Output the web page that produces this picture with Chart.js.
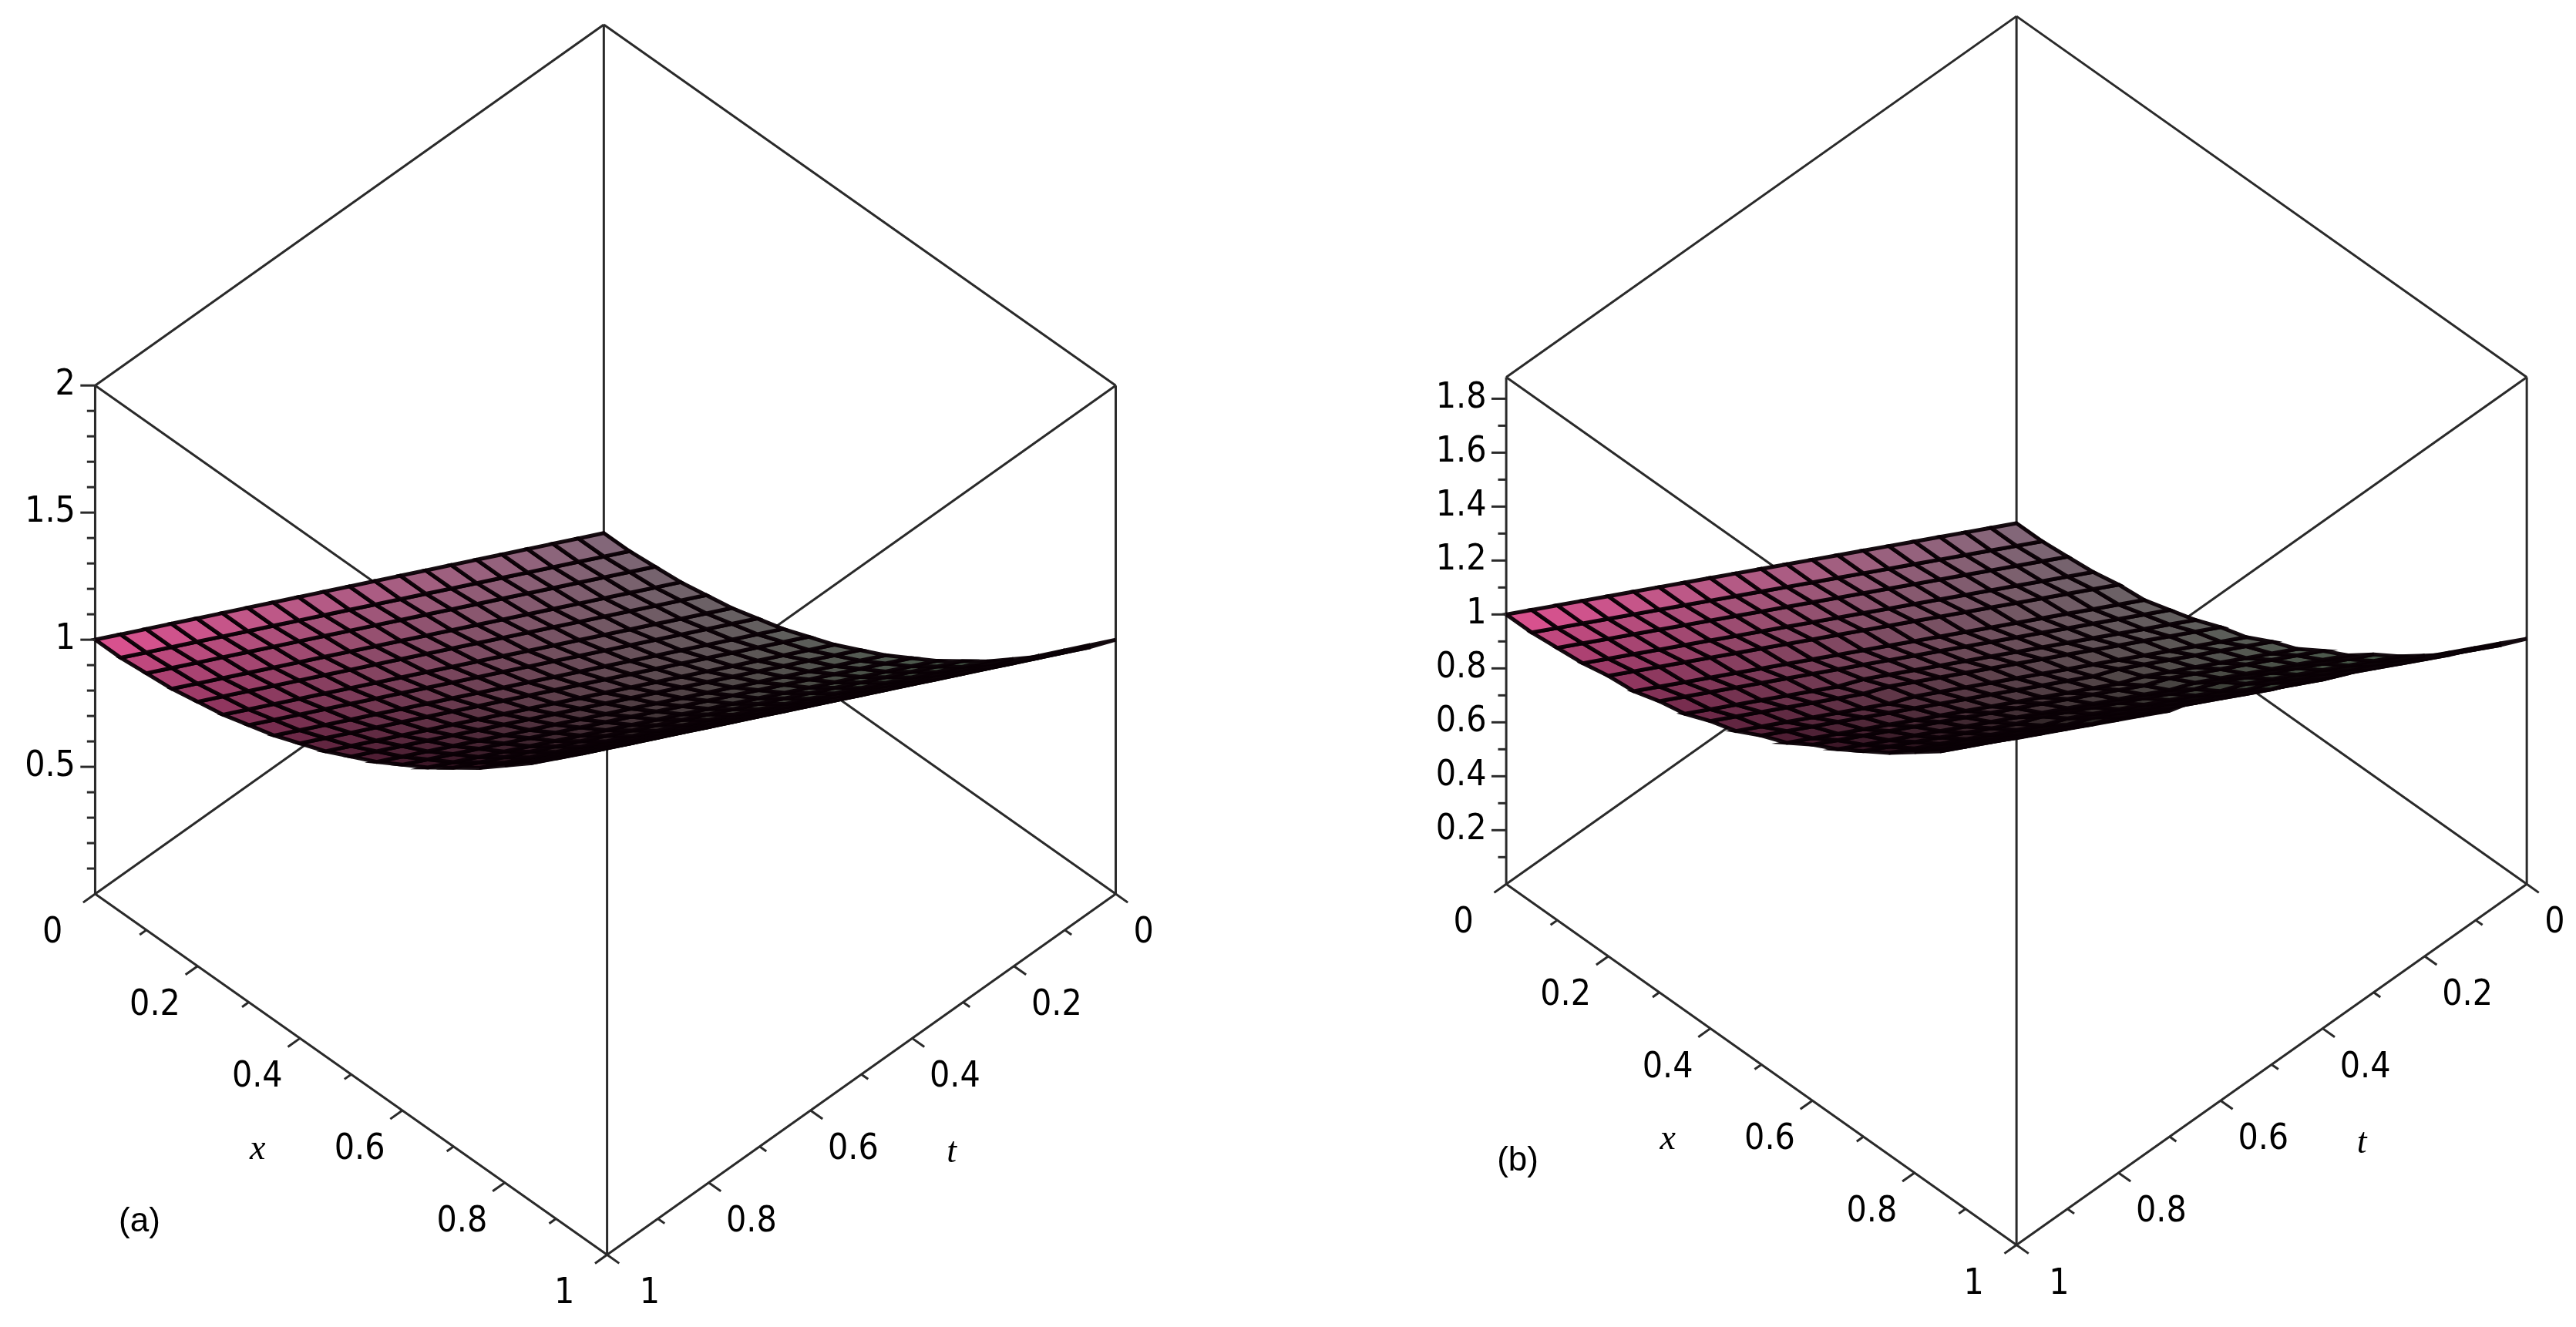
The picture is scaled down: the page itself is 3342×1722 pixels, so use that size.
<!DOCTYPE html>
<html>
<head>
<meta charset="utf-8">
<script src="https://cdn.jsdelivr.net/npm/chart.js@4.4.1/dist/chart.umd.min.js"></script>
<style>
  html, body { margin: 0; padding: 0; background: #fff; }
  #wrap { width: 3342px; height: 1722px; }
</style>
</head>
<body>
<div id="wrap"><canvas id="c" width="3342" height="1722"></canvas></div>
<script>
// grid of x and t (0..1 step 0.05)
const xs = [0,.05,.1,.15,.2,.25,.3,.35,.4,.45,.5,.55,.6,.65,.7,.75,.8,.85,.9,.95,1];
const ts = [0,.05,.1,.15,.2,.25,.3,.35,.4,.45,.5,.55,.6,.65,.7,.75,.8,.85,.9,.95,1];

// u(x,t), one row per t
const uA = [
  [0,0,.01,.02,.04,.06,.09,.12,.16,.2,.25,.3,.36,.42,.49,.56,.64,.72,.81,.9,1],
  [.05,.05,.06,.07,.09,.11,.14,.17,.21,.25,.3,.35,.41,.47,.54,.61,.69,.77,.86,.95,1.05],
  [.1,.1,.11,.12,.14,.16,.19,.22,.26,.3,.35,.4,.46,.52,.59,.66,.74,.82,.91,1,1.1],
  [.15,.15,.16,.17,.19,.21,.24,.27,.31,.35,.4,.45,.51,.57,.64,.71,.79,.87,.96,1.05,1.15],
  [.2,.2,.21,.22,.24,.26,.29,.32,.36,.4,.45,.5,.56,.62,.69,.76,.84,.92,1.01,1.1,1.2],
  [.25,.25,.26,.27,.29,.31,.34,.37,.41,.45,.5,.55,.61,.67,.74,.81,.89,.97,1.06,1.15,1.25],
  [.3,.3,.31,.32,.34,.36,.39,.42,.46,.5,.55,.6,.66,.72,.79,.86,.94,1.02,1.11,1.2,1.3],
  [.35,.35,.36,.37,.39,.41,.44,.47,.51,.55,.6,.65,.71,.77,.84,.91,.99,1.07,1.16,1.25,1.35],
  [.4,.4,.41,.42,.44,.46,.49,.52,.56,.6,.65,.7,.76,.82,.89,.96,1.04,1.12,1.21,1.3,1.4],
  [.45,.45,.46,.47,.49,.51,.54,.57,.61,.65,.7,.75,.81,.87,.94,1.01,1.09,1.17,1.26,1.35,1.45],
  [.5,.5,.51,.52,.54,.56,.59,.62,.66,.7,.75,.8,.86,.92,.99,1.06,1.14,1.22,1.31,1.4,1.5],
  [.55,.55,.56,.57,.59,.61,.64,.67,.71,.75,.8,.85,.91,.97,1.04,1.11,1.19,1.27,1.36,1.45,1.55],
  [.6,.6,.61,.62,.64,.66,.69,.72,.76,.8,.85,.9,.96,1.02,1.09,1.16,1.24,1.32,1.41,1.5,1.6],
  [.65,.65,.66,.67,.69,.71,.74,.77,.81,.85,.9,.95,1.01,1.07,1.14,1.21,1.29,1.37,1.46,1.55,1.65],
  [.7,.7,.71,.72,.74,.76,.79,.82,.86,.9,.95,1,1.06,1.12,1.19,1.26,1.34,1.42,1.51,1.6,1.7],
  [.75,.75,.76,.77,.79,.81,.84,.87,.91,.95,1,1.05,1.11,1.17,1.24,1.31,1.39,1.47,1.56,1.65,1.75],
  [.8,.8,.81,.82,.84,.86,.89,.92,.96,1,1.05,1.1,1.16,1.22,1.29,1.36,1.44,1.52,1.61,1.7,1.8],
  [.85,.85,.86,.87,.89,.91,.94,.97,1.01,1.05,1.1,1.15,1.21,1.27,1.34,1.41,1.49,1.57,1.66,1.75,1.85],
  [.9,.9,.91,.92,.94,.96,.99,1.02,1.06,1.1,1.15,1.2,1.26,1.32,1.39,1.46,1.54,1.62,1.71,1.8,1.9],
  [.95,.95,.96,.97,.99,1.01,1.04,1.07,1.11,1.15,1.2,1.25,1.31,1.37,1.44,1.51,1.59,1.67,1.76,1.85,1.95],
  [1,1,1.01,1.02,1.04,1.06,1.09,1.12,1.16,1.2,1.25,1.3,1.36,1.42,1.49,1.56,1.64,1.72,1.81,1.9,2]
];

// u(x,t)
const uB = [
  [0,0,.01,.02,.04,.05,.08,.11,.15,.18,.23,.27,.33,.38,.45,.51,.58,.65,.74,.82,.91],
  [.05,.05,.06,.07,.09,.1,.13,.16,.2,.23,.28,.32,.38,.43,.5,.56,.63,.7,.79,.87,.96],
  [.1,.1,.11,.12,.14,.15,.18,.21,.25,.28,.33,.37,.43,.48,.55,.61,.68,.75,.84,.92,1.01],
  [.15,.15,.16,.17,.19,.2,.23,.26,.3,.33,.38,.42,.48,.53,.6,.66,.73,.8,.89,.97,1.06],
  [.2,.2,.21,.22,.24,.25,.28,.31,.35,.38,.43,.47,.53,.58,.65,.71,.78,.85,.94,1.02,1.11],
  [.25,.25,.26,.27,.29,.3,.33,.36,.4,.43,.48,.52,.58,.63,.7,.76,.83,.9,.99,1.07,1.16],
  [.3,.3,.31,.32,.34,.35,.38,.41,.45,.48,.53,.57,.63,.68,.75,.81,.88,.95,1.04,1.12,1.21],
  [.35,.35,.36,.37,.39,.4,.43,.46,.5,.53,.57,.61,.67,.72,.79,.85,.92,.99,1.08,1.16,1.25],
  [.4,.4,.41,.42,.44,.45,.48,.51,.55,.58,.62,.66,.72,.77,.84,.9,.97,1.04,1.13,1.21,1.3],
  [.45,.45,.46,.47,.49,.5,.53,.56,.6,.63,.67,.71,.77,.82,.89,.95,1.02,1.09,1.18,1.26,1.35],
  [.5,.5,.51,.52,.54,.55,.58,.61,.65,.68,.72,.76,.82,.87,.94,1,1.07,1.14,1.23,1.31,1.4],
  [.55,.55,.56,.57,.59,.6,.63,.66,.7,.73,.77,.81,.87,.92,.99,1.05,1.12,1.19,1.28,1.36,1.45],
  [.6,.6,.61,.62,.64,.65,.68,.71,.75,.78,.82,.86,.92,.97,1.04,1.1,1.17,1.24,1.33,1.41,1.5],
  [.65,.65,.66,.67,.69,.7,.73,.76,.8,.83,.87,.91,.97,1.02,1.09,1.15,1.22,1.29,1.38,1.46,1.55],
  [.7,.7,.71,.72,.74,.75,.78,.8,.84,.87,.92,.96,1.02,1.07,1.13,1.19,1.26,1.33,1.42,1.5,1.58],
  [.75,.75,.76,.77,.79,.8,.83,.85,.89,.92,.97,1.01,1.07,1.12,1.18,1.24,1.31,1.38,1.47,1.55,1.63],
  [.8,.8,.81,.82,.84,.85,.88,.9,.94,.97,1.02,1.06,1.12,1.17,1.23,1.29,1.36,1.43,1.52,1.6,1.68],
  [.85,.85,.86,.87,.89,.9,.93,.95,.99,1.02,1.07,1.11,1.17,1.22,1.28,1.34,1.41,1.48,1.57,1.65,1.73],
  [.9,.9,.91,.92,.94,.95,.98,1,1.04,1.07,1.12,1.16,1.22,1.27,1.33,1.39,1.46,1.53,1.62,1.7,1.78],
  [.95,.95,.96,.97,.99,1,1.03,1.05,1.09,1.12,1.17,1.21,1.27,1.32,1.38,1.44,1.51,1.58,1.67,1.75,1.83],
  [1,1,1.01,1.02,1.04,1.05,1.08,1.1,1.14,1.17,1.22,1.26,1.32,1.37,1.43,1.49,1.56,1.63,1.72,1.8,1.88]
];

const xTicks = [0, 0.2, 0.4, 0.6, 0.8, 1];
const tTicks = [0, 0.2, 0.4, 0.6, 0.8, 1];
const zTicksA = [0.5, 1, 1.5, 2];
const zTicksB = [0.2, 0.4, 0.6, 0.8, 1, 1.2, 1.4, 1.6, 1.8];
const zMaxA = 2;
const zMaxB = 1.88;

// view geometry for each panel (page units, 1570 x 809)
const panels = [
  { u: uA, zTicks: zTicksA, zMax: zMaxA, name: "(a)", bx: 368, by: 325, ex: [312, 220], et: [-310, 220], ez: 155, lab: [85, 745] },
  { u: uB, zTicks: zTicksB, zMax: zMaxB, name: "(b)", bx: 1229, by: 319, ex: [311, 220], et: [-311, 220], ez: 164.4, lab: [925, 708] }
];

function proj(p, x, t, z) {
  return { x: p.bx + x * p.ex[0] + t * p.et[0], y: p.by + x * p.ex[1] + t * p.et[1] - z * p.ez };
}

// box edges as datasets
const datasets = [];
panels.forEach(p => {
  const c = [[0,0],[1,0],[1,1],[0,1]];
  [0, p.zMax].forEach(z => {
    for (let i = 0; i < 4; i++) {
      const a = c[i], b = c[(i + 1) % 4];
      datasets.push({ data: [proj(p, a[0], a[1], z), proj(p, b[0], b[1], z)] });
    }
  });
  c.forEach(a => datasets.push({ data: [proj(p, a[0], a[1], 0), proj(p, a[0], a[1], p.zMax)] }));
});
datasets.forEach(d => {
  d.showLine = true; d.borderColor = "#2a2a2a"; d.borderWidth = 3; d.pointRadius = 0;
});

function mix(a, b, f) { return a.map((v, i) => v + (b[i] - v) * f); }
// corner colours: (x0,t0),(x1,t0),(x0,t1),(x1,t1)
const c00 = [135, 105, 125], c10 = [55, 85, 60], c01 = [245, 90, 160], c11 = [0, 0, 0];

const surfacePlugin = {
  id: "surface",
  afterDatasetsDraw(chart) {
    const ctx = chart.ctx, sx = chart.scales.x, sy = chart.scales.y;
    const P = q => [sx.getPixelForValue(q.x), sy.getPixelForValue(q.y)];
    const k = sx.getPixelForValue(1) - sx.getPixelForValue(0);
    panels.forEach(p => {
      // surface cells, far corner (x=1,t=1) first
      const cells = [];
      for (let j = 0; j < ts.length - 1; j++)
        for (let i = 0; i < xs.length - 1; i++) cells.push([i, j]);
      cells.sort((a, b) => (b[0] + b[1]) - (a[0] + a[1]));
      cells.forEach(([i, j]) => {
        const pts = [[i, j], [i + 1, j], [i + 1, j + 1], [i, j + 1]].map(([a, b]) => P(proj(p, xs[a], ts[b], p.u[b][a])));
        const fx = (xs[i] + xs[i + 1]) / 2, ft = (ts[j] + ts[j + 1]) / 2;
        const col = mix(mix(c00, c10, Math.pow(fx, 0.7)), mix(c01, c11, Math.pow(fx, 0.6)), ft).map(Math.round);
        ctx.beginPath();
        ctx.moveTo(pts[0][0], pts[0][1]);
        for (let m = 1; m < 4; m++) ctx.lineTo(pts[m][0], pts[m][1]);
        ctx.closePath();
        ctx.fillStyle = `rgb(${col})`;
        ctx.fill();
        ctx.strokeStyle = "rgba(10,0,5,0.95)";
        ctx.lineWidth = 5;
        ctx.stroke();
      });

      ctx.strokeStyle = "#2a2a2a";
      ctx.lineWidth = 3;
      ctx.fillStyle = "#000";
      ctx.font = '46px "Liberation Sans Narrow", "DejaVu Sans Condensed", sans-serif';
      const tick = (q, dx, dy, len) => {
        const a = P(q);
        ctx.beginPath(); ctx.moveTo(a[0], a[1]); ctx.lineTo(a[0] + dx * len * k, a[1] + dy * len * k); ctx.stroke();
      };
      const nx = Math.hypot(p.et[0], p.et[1]), ne = Math.hypot(p.ex[0], p.ex[1]);
      // x axis along t=1 edge, t axis along x=1 edge
      for (let m = 0; m <= 10; m++) {
        const v = m / 10, len = m % 2 === 0 ? 9 : 5;
        tick(proj(p, v, 1, 0), p.et[0] / nx, p.et[1] / nx, len);
        tick(proj(p, 1, v, 0), p.ex[0] / ne, p.ex[1] / ne, len);
      }
      ctx.textAlign = "center"; ctx.textBaseline = "middle";
      xTicks.forEach(v => {
        const q = proj(p, v, 1, 0), a = P({ x: q.x - 26, y: q.y + 24 });
        ctx.fillText(String(v), a[0], a[1]);
      });
      tTicks.forEach(v => {
        const q = proj(p, 1, v, 0), a = P({ x: q.x + (v === 0 ? 17 : 26), y: q.y + 24 });
        ctx.fillText(String(v), a[0], a[1]);
      });
      // z axis at (x=0,t=1)
      for (let m = 1; m / 10 <= p.zMax + 1e-9; m++) {
        const v = m / 10;
        const major = p.zTicks.some(z => Math.abs(z - v) < 1e-9);
        tick(proj(p, 0, 1, v), -1, 0, major ? 9 : 5);
      }
      ctx.textAlign = "right";
      p.zTicks.forEach(v => {
        const q = proj(p, 0, 1, v), a = P({ x: q.x - 12, y: q.y });
        ctx.fillText(String(v), a[0], a[1]);
      });
      // axis titles
      ctx.textAlign = "center";
      ctx.font = 'italic 46px "Liberation Serif", serif';
      let q = proj(p, 0.5, 1, 0), a = P({ x: q.x - 57, y: q.y + 46 });
      ctx.fillText("x", a[0], a[1]);
      q = proj(p, 1, 0.5, 0); a = P({ x: q.x + 55, y: q.y + 48 });
      ctx.fillText("t", a[0], a[1]);
      ctx.font = '44px "Liberation Sans", Arial, sans-serif';
      a = P({ x: p.lab[0], y: p.lab[1] });
      ctx.fillText(p.name, a[0], a[1]);
    });
  }
};

new Chart(document.getElementById("c"), {
  type: "scatter",
  data: { datasets },
  options: {
    responsive: false,
    devicePixelRatio: 1,
    animation: false,
    layout: { padding: 0 },
    plugins: { legend: { display: false }, tooltip: { enabled: false } },
    scales: {
      x: { type: "linear", min: 0, max: 1570, display: false },
      y: { type: "linear", min: 0, max: 809, reverse: true, display: false }
    }
  },
  plugins: [surfacePlugin]
});
</script>
</body>
</html>
